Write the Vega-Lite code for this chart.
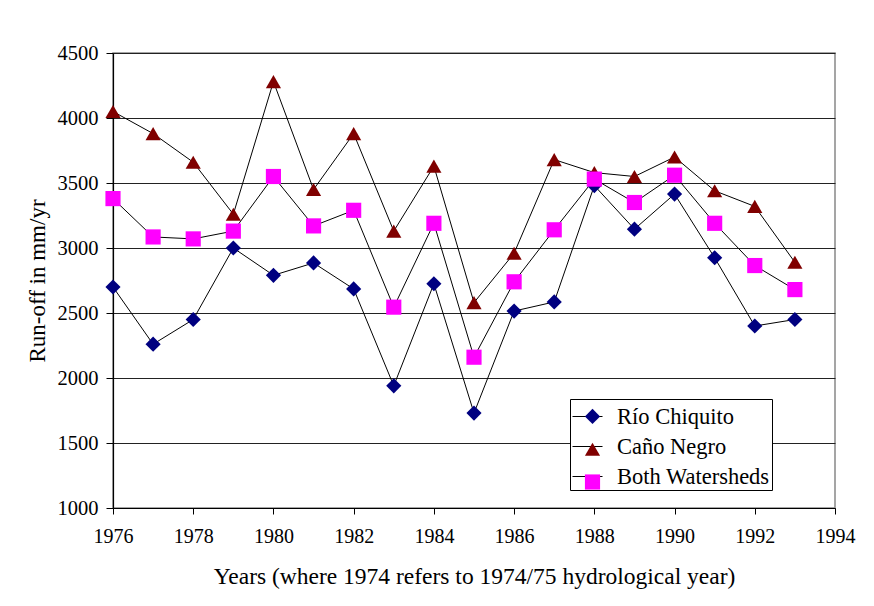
{
  "$schema": "https://vega.github.io/schema/vega-lite/v6.json",
  "autosize": "none",
  "padding": {"left": 113, "top": 53, "right": 39, "bottom": 98},
  "width": 722,
  "height": 455,
  "background": "white",
  "config": {
    "font": "Liberation Serif",
    "view": {"stroke": "#888888", "strokeWidth": 1.5},
    "axis": {"labelFont": "Liberation Serif", "titleFont": "Liberation Serif", "labelColor": "black", "titleColor": "black", "titleFontWeight": "normal", "domainColor": "black", "tickColor": "black"},
    "legend": {"labelFont": "Liberation Serif"}
  },
  "data": {"values": [
    {"year": 1976, "series": "Río Chiquito", "runoff": 2700},
    {"year": 1977, "series": "Río Chiquito", "runoff": 2260},
    {"year": 1978, "series": "Río Chiquito", "runoff": 2450},
    {"year": 1979, "series": "Río Chiquito", "runoff": 3000},
    {"year": 1980, "series": "Río Chiquito", "runoff": 2790},
    {"year": 1981, "series": "Río Chiquito", "runoff": 2885},
    {"year": 1982, "series": "Río Chiquito", "runoff": 2685},
    {"year": 1983, "series": "Río Chiquito", "runoff": 1940},
    {"year": 1984, "series": "Río Chiquito", "runoff": 2725},
    {"year": 1985, "series": "Río Chiquito", "runoff": 1730},
    {"year": 1986, "series": "Río Chiquito", "runoff": 2515},
    {"year": 1987, "series": "Río Chiquito", "runoff": 2585},
    {"year": 1988, "series": "Río Chiquito", "runoff": 3480},
    {"year": 1989, "series": "Río Chiquito", "runoff": 3145},
    {"year": 1990, "series": "Río Chiquito", "runoff": 3415},
    {"year": 1991, "series": "Río Chiquito", "runoff": 2925},
    {"year": 1992, "series": "Río Chiquito", "runoff": 2400},
    {"year": 1993, "series": "Río Chiquito", "runoff": 2450},
    {"year": 1976, "series": "Caño Negro", "runoff": 4050},
    {"year": 1977, "series": "Caño Negro", "runoff": 3880},
    {"year": 1978, "series": "Caño Negro", "runoff": 3660},
    {"year": 1979, "series": "Caño Negro", "runoff": 3260},
    {"year": 1980, "series": "Caño Negro", "runoff": 4280},
    {"year": 1981, "series": "Caño Negro", "runoff": 3450},
    {"year": 1982, "series": "Caño Negro", "runoff": 3880},
    {"year": 1983, "series": "Caño Negro", "runoff": 3130},
    {"year": 1984, "series": "Caño Negro", "runoff": 3630},
    {"year": 1985, "series": "Caño Negro", "runoff": 2580},
    {"year": 1986, "series": "Caño Negro", "runoff": 2960},
    {"year": 1987, "series": "Caño Negro", "runoff": 3680},
    {"year": 1988, "series": "Caño Negro", "runoff": 3580},
    {"year": 1989, "series": "Caño Negro", "runoff": 3550},
    {"year": 1990, "series": "Caño Negro", "runoff": 3700},
    {"year": 1991, "series": "Caño Negro", "runoff": 3440},
    {"year": 1992, "series": "Caño Negro", "runoff": 3320},
    {"year": 1993, "series": "Caño Negro", "runoff": 2890},
    {"year": 1976, "series": "Both Watersheds", "runoff": 3380},
    {"year": 1977, "series": "Both Watersheds", "runoff": 3085},
    {"year": 1978, "series": "Both Watersheds", "runoff": 3070},
    {"year": 1979, "series": "Both Watersheds", "runoff": 3130},
    {"year": 1980, "series": "Both Watersheds", "runoff": 3550},
    {"year": 1981, "series": "Both Watersheds", "runoff": 3170},
    {"year": 1982, "series": "Both Watersheds", "runoff": 3290},
    {"year": 1983, "series": "Both Watersheds", "runoff": 2545},
    {"year": 1984, "series": "Both Watersheds", "runoff": 3190},
    {"year": 1985, "series": "Both Watersheds", "runoff": 2160},
    {"year": 1986, "series": "Both Watersheds", "runoff": 2740},
    {"year": 1987, "series": "Both Watersheds", "runoff": 3140},
    {"year": 1988, "series": "Both Watersheds", "runoff": 3530},
    {"year": 1989, "series": "Both Watersheds", "runoff": 3350},
    {"year": 1990, "series": "Both Watersheds", "runoff": 3560},
    {"year": 1991, "series": "Both Watersheds", "runoff": 3190},
    {"year": 1992, "series": "Both Watersheds", "runoff": 2865},
    {"year": 1993, "series": "Both Watersheds", "runoff": 2680}
  ]},
  "encoding": {
    "x": {"field": "year", "type": "quantitative",
      "scale": {"domain": [1976, 1994], "nice": false, "zero": false},
      "axis": {"values": [1976, 1978, 1980, 1982, 1984, 1986, 1988, 1990, 1992, 1994], "format": "d", "grid": false,
        "title": "Years (where 1974 refers to 1974/75 hydrological year)", "labelFont": "Liberation Serif", "titleFont": "Liberation Serif", "labelFontSize": 20, "titleFontSize": 23.5,
        "tickSize": 6, "labelPadding": 12, "titlePadding": 18, "domainWidth": 1.2, "labelFlush": false}},
    "y": {"field": "runoff", "type": "quantitative",
      "scale": {"domain": [1000, 4500], "nice": false, "zero": false},
      "axis": {"values": [1000, 1500, 2000, 2500, 3000, 3500, 4000, 4500], "format": "d", "grid": true, "gridColor": "#222222", "gridWidth": 1,
        "title": "Run-off in mm/yr", "labelFont": "Liberation Serif", "titleFont": "Liberation Serif", "labelFontSize": 20.5, "titleFontSize": 23,
        "tickSize": 7, "labelPadding": 8, "titlePadding": 8, "domainWidth": 1.2}}
  },
  "layer": [
    {"transform": [{"calculate": "datum.series", "as": "watershed"}],
     "mark": {"type": "line", "strokeWidth": 1},
     "encoding": {
       "stroke": {"field": "watershed", "type": "nominal", "sort": ["Río Chiquito", "Caño Negro", "Both Watersheds"],
         "scale": {"range": ["black", "black", "black"]},
         "legend": {"title": null, "orient": "none", "legendX": 457, "legendY": 346, "zindex": 0, "gridAlign": "all", "symbolType": "stroke", "symbolSize": 900, "symbolStrokeWidth": 1, "symbolStrokeColor": "black",
           "labelFontSize": 22.5, "labelFont": "Liberation Serif", "labelColor": "black", "labelOffset": 14,
           "fillColor": "white", "strokeColor": "black", "padding": 2, "rowPadding": 3}}
     }},
    {"mark": {"type": "point", "filled": true, "opacity": 1, "strokeWidth": 0, "size": 230},
     "encoding": {
       "fill": {"field": "series", "type": "nominal",
         "scale": {"domain": ["Río Chiquito", "Caño Negro", "Both Watersheds"], "range": ["#000080", "#800000", "#FF00FF"]},
         "legend": {"title": null, "orient": "none", "legendX": 469.5, "legendY": 353.4, "zindex": 1, "gridAlign": "all", "symbolSize": 230, "symbolStrokeWidth": 0, "symbolOpacity": 1,
           "labelExpr": "''", "labelFontSize": 1, "labelOpacity": 0, "labelOffset": 0,
           "padding": 2, "rowPadding": 16.8}},
       "shape": {"field": "series", "type": "nominal",
         "scale": {"domain": ["Río Chiquito", "Caño Negro", "Both Watersheds"], "range": ["diamond", "triangle-up", "square"]}}
     }}
  ]
}
